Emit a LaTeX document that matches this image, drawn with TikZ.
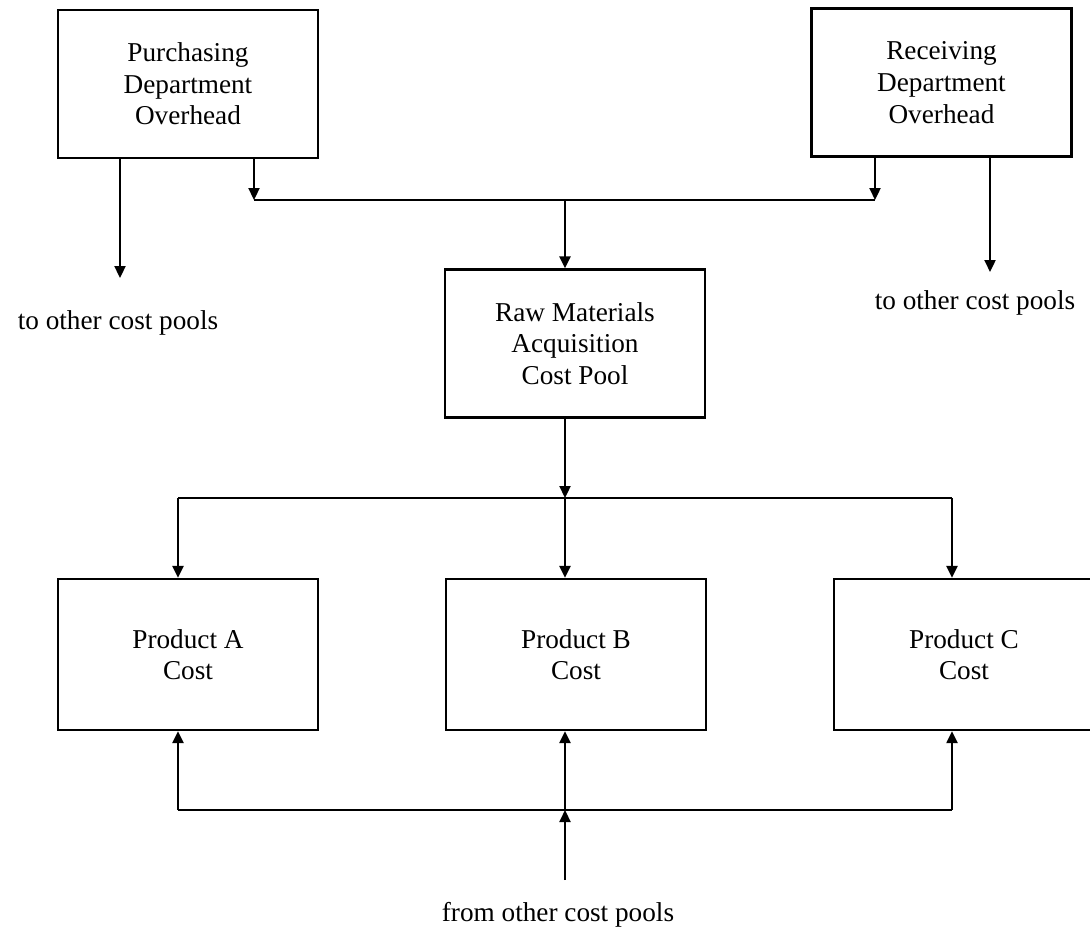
\documentclass[tikz,border=0pt]{standalone}
\usepackage{fontspec}
\setmainfont{Liberation Serif}
\usetikzlibrary{arrows.meta}
\begin{document}
\begin{tikzpicture}[
  pool/.style={draw, line width=1.3pt, minimum width=5.2cm, minimum height=2.96cm,
    align=center, font=\fontsize{15.5}{18}\selectfont},
  note/.style={font=\fontsize{15.5}{18}\selectfont},
  arr/.style={line width=1.3pt, -{Triangle[length=0.24cm, width=0.22cm]}},
  bus/.style={line width=1.3pt}
]
\useasboundingbox (0,0) rectangle (21.8,-18.56);

\node[pool] (pur) at (3.76, -1.68) {Purchasing\\Department\\Overhead};
\node[pool] (rec) at (18.83, -1.65) {Receiving\\Department\\Overhead};
\node[pool] (raw) at (11.5, -6.87) {Raw Materials\\Acquisition\\Cost Pool};

\node[pool, minimum height=3.02cm] (pa) at (3.76, -13.09) {Product A\\Cost};
\node[pool, minimum height=3.02cm] (pb) at (11.52, -13.09) {Product B\\Cost};
\node[pool, minimum height=3.02cm] (pc) at (19.28, -13.09) {Product C\\Cost};

\node[note] (toleft) at (2.36, -6.46) {to other cost pools};
\node[note] (toright) at (19.5, -6.06) {to other cost pools};
\node[note] (from) at (11.16, -18.3) {from other cost pools};

\coordinate (tl) at (2.4, -5.56);
\coordinate (tr) at (19.8, -5.44);
\coordinate (j1) at (5.08, -4.0);
\coordinate (j2) at (17.5, -4.0);
\coordinate (jc) at (11.3, -4.0);
\coordinate (mA) at (3.56, -9.96);
\coordinate (mB) at (11.3, -9.96);
\coordinate (mC) at (19.04, -9.96);
\coordinate (bA) at (3.56, -16.2);
\coordinate (bB) at (11.3, -16.2);
\coordinate (bC) at (19.04, -16.2);
\coordinate (fr) at (11.3, -17.6);

\draw[arr] (pur.south -| tl) -- (tl);
\draw[arr] (rec.south -| tr) -- (tr);
\draw[arr] (pur.south -| j1) -- (j1);
\draw[arr] (rec.south -| j2) -- (j2);
\draw[bus] (j1) -- (j2);
\draw[arr] (jc) -- (raw.north -| jc);

\draw[arr] (raw.south -| mB) -- (mB);
\draw[bus] (mA) -- (mC);
\draw[arr] (mA) -- (pa.north -| mA);
\draw[arr] (mB) -- (pb.north -| mB);
\draw[arr] (mC) -- (pc.north -| mC);

\draw[bus] (bA) -- (bC);
\draw[arr] (bA) -- (pa.south -| bA);
\draw[arr] (bB) -- (pb.south -| bB);
\draw[arr] (bC) -- (pc.south -| bC);
\draw[arr] (fr) -- (bB);
\end{tikzpicture}
\end{document}
